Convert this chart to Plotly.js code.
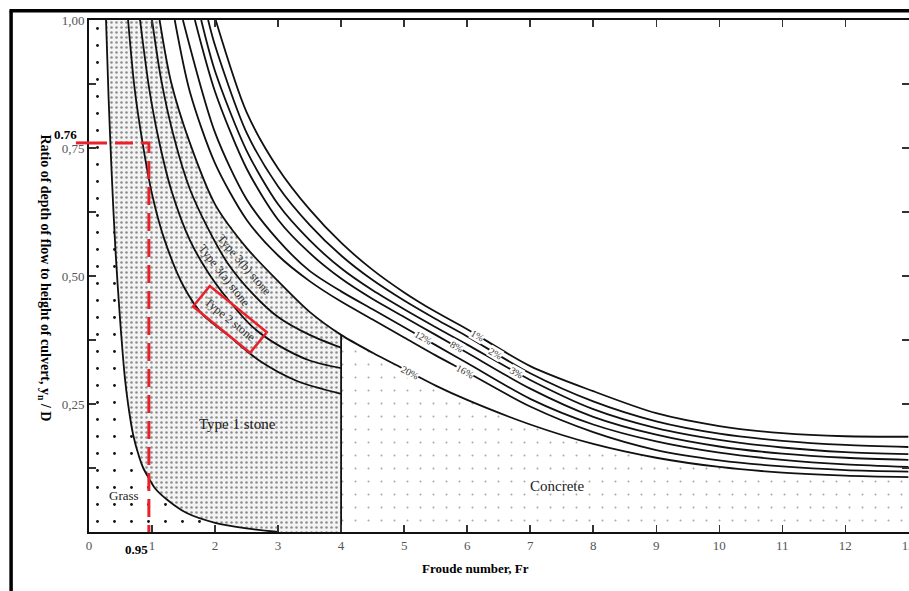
<!DOCTYPE html>
<html><head><meta charset="utf-8">
<script src="https://cdn.plot.ly/plotly-3.0.1.min.js"></script>
<style>html,body{margin:0;padding:0;background:#fff;}#chart{width:909px;height:591px;}</style>
</head><body><div id="chart"></div>
<script>
// ---- data ----
const frTicks = [0,1,2,3,4,5,6,7,8,9,10,11,12,13];
const ratioTicks = [0.125,0.25,0.375,0.5,0.625,0.75,0.875,1.0];
const ratioTickText = ['','0,25','','0,50','','0,75','','1,00'];

// Grass boundary
const grassX = [0.27,0.31,0.36,0.42,0.49,0.57,0.62,0.70,0.80,0.86,0.95,1.05,1.25,1.55,2.0,2.5,3.0];
const grassY = [1.00,0.85,0.70,0.55,0.42,0.30,0.25,0.19,0.145,0.125,0.105,0.085,0.062,0.037,0.018,0.007,0.0];

// Stone boundaries (end at Fr = 4)
const s1X = [0.62,0.72,0.85,1.0,1.2,1.5,1.8,2.2,2.7,3.3,4.0];
const s1Y = [1.0,0.87,0.76,0.66,0.57,0.48,0.425,0.385,0.335,0.295,0.27];
const s2X = [0.81,0.95,1.1,1.3,1.6,1.9,2.2,2.6,3.0,3.5,4.0];
const s2Y = [1.0,0.87,0.77,0.67,0.57,0.505,0.455,0.40,0.365,0.335,0.32];
const s3X = [1.0,1.15,1.35,1.6,1.9,2.2,2.6,3.0,3.5,4.0];
const s3Y = [1.0,0.88,0.77,0.67,0.59,0.525,0.465,0.42,0.385,0.36];

// Concrete curves (percent family)
const p1X = [2.01,2.5,3,3.5,4,4.5,5,5.5,6,7,8,9,10,11,12,13];
const p1Y = [1.0,0.82,0.71,0.63,0.565,0.512,0.468,0.43,0.396,0.324,0.275,0.232,0.207,0.193,0.187,0.186];
const p2X = [1.89,2,2.5,3,3.5,4,4.5,5,5.5,6,7,8,9,10,11,12,13];
const p2Y = [1.0,0.95,0.78,0.675,0.6,0.54,0.492,0.452,0.416,0.382,0.31,0.255,0.216,0.192,0.178,0.17,0.166];
const p3X = [1.78,2,2.5,3,3.5,4,4.5,5,5.5,6,7,8,9,10,11,12,13];
const p3Y = [1.0,0.9,0.745,0.64,0.57,0.515,0.472,0.435,0.4,0.366,0.297,0.24,0.203,0.18,0.165,0.156,0.152];
const p4X = [1.68,2,2.5,3,3.5,4,4.5,5,5.5,6,7,8,9,10,11,12,13];
const p4Y = [1.0,0.86,0.71,0.61,0.545,0.495,0.455,0.42,0.385,0.35,0.28,0.225,0.19,0.167,0.153,0.145,0.141];
const p5X = [1.49,2,2.5,3,3.5,4,4.5,5,5.5,6,7,8,9,10,11,12,13];
const p5Y = [1.0,0.78,0.65,0.57,0.51,0.47,0.435,0.40,0.365,0.33,0.26,0.21,0.177,0.155,0.141,0.132,0.127];
const p6X = [1.36,1.6,2,2.5,3,3.5,4,4.5,5,5.5,6,7,8,9,10,11,12,13];
const p6Y = [1.0,0.86,0.72,0.61,0.54,0.49,0.45,0.415,0.38,0.345,0.312,0.245,0.195,0.16,0.14,0.128,0.121,0.118];
const p7X = [1.12,1.3,1.6,2.0,2.5,3.0,3.5,4.0,4.5,5,5.5,6,7,8,9,10,11,12,13];
const p7Y = [1.0,0.88,0.76,0.64,0.555,0.49,0.43,0.385,0.35,0.318,0.286,0.258,0.21,0.172,0.145,0.127,0.116,0.11,0.107];

const pctLabels = ['1%','2%','3%','8%','12%','16%','20%'];
const pctLabelFr = [6.16,6.45,6.78,5.83,5.3,5.97,5.09];

const stoneLimitFr = 4;
const markFr = 0.95;
const markRatio = 0.76;

// ---- helpers ----
function interp(xs, ys, x){
  for(let i=0;i<xs.length-1;i++){
    if(x>=xs[i] && x<=xs[i+1]){const t=(x-xs[i])/(xs[i+1]-xs[i]);return ys[i]+t*(ys[i+1]-ys[i]);}
  }
  return x<xs[0]?ys[0]:ys[ys.length-1];
}
const XMAX = 13.01;
const PXX = 820/XMAX, PXY = 512;
function angleAt(xs, ys, x){
  const h=0.2; const s=(interp(xs,ys,x+h)-interp(xs,ys,x-h))/(2*h);
  return Math.atan2(-s*PXY, PXX)*180/Math.PI;
}

const pCurves = [[p1X,p1Y],[p2X,p2Y],[p3X,p3Y],[p4X,p4Y],[p5X,p5Y],[p6X,p6Y],[p7X,p7Y]];
const p7At4 = interp(p7X,p7Y,stoneLimitFr);

// polygons
const grassPolyX = [0,0].concat(grassX);
const grassPolyY = [0,1].concat(grassY);

const stoneX = [], stoneY = [];
p7X.forEach((x,i)=>{ if(x<=stoneLimitFr){stoneX.push(x);stoneY.push(p7Y[i]);} });
stoneX.push(stoneLimitFr); stoneY.push(0);
for(let i=grassX.length-1;i>=0;i--){stoneX.push(grassX[i]);stoneY.push(grassY[i]);}

const concX=[stoneLimitFr], concY=[0];
p7X.forEach((x,i)=>{ if(x>=stoneLimitFr){concX.push(x);concY.push(p7Y[i]);} });
concX.push(XMAX); concY.push(p7Y[p7Y.length-1]); concX.push(XMAX); concY.push(0);

const traces = [];
traces.push({x:grassPolyX,y:grassPolyY,mode:'none',fill:'toself',fillcolor:'#ffffff',
  fillpattern:{shape:'.',bgcolor:'#ffffff',fgcolor:'#111',size:17,solidity:0.022},hoverinfo:'skip'});
traces.push({x:stoneX,y:stoneY,mode:'none',fill:'toself',
  fillpattern:{shape:'.',bgcolor:'#f4f4f4',fgcolor:'#8d8d8d',size:5,solidity:0.2},hoverinfo:'skip'});
traces.push({x:concX,y:concY,mode:'none',fill:'toself',
  fillpattern:{shape:'.',bgcolor:'#ffffff',fgcolor:'#a8a8a8',size:13,solidity:0.018},hoverinfo:'skip'});

[[grassX,grassY],[s1X,s1Y],[s2X,s2Y],[s3X,s3Y]].concat(pCurves).forEach(c=>{
  traces.push({x:c[0],y:c[1],mode:'lines',line:{color:'#111',width:1.8,shape:'spline',smoothing:0.8},hoverinfo:'skip'});
});
traces.push({x:[stoneLimitFr,stoneLimitFr],y:[0,p7At4],mode:'lines',line:{color:'#111',width:1.8},hoverinfo:'skip'});

// red marker lines
traces.push({x:[0,markFr,markFr],y:[markRatio,markRatio,0],mode:'lines',
  line:{color:'#e8212b',width:3,dash:'18px,8px'},hoverinfo:'skip'});

const serif = 'Liberation Serif, Times New Roman, serif';
const annotations = [];
pctLabels.forEach((t,i)=>{
  const c=pCurves[i]; const x=pctLabelFr[i];
  annotations.push({x:x,y:interp(c[0],c[1],x),text:t,showarrow:false,textangle:angleAt(c[0],c[1],x),
    font:{family:serif,size:10,color:'#333'},bgcolor:'#ffffff',borderpad:0});
});
function mid(ax,ay,bx,by,x){return (interp(ax,ay,x)+interp(bx,by,x))/2;}
annotations.push({x:2.47,y:mid(s3X,s3Y,p7X,p7Y,2.47),text:'Type 3(b) stone',showarrow:false,
  textangle:angleAt(s3X,s3Y,2.47),font:{family:serif,size:12,color:'#333'}});
annotations.push({x:2.14,y:mid(s2X,s2Y,s3X,s3Y,2.14),text:'Type 3(a) stone',showarrow:false,
  textangle:angleAt(s2X,s2Y,2.14),font:{family:serif,size:12,color:'#333'}});
annotations.push({x:2.24,y:mid(s1X,s1Y,s2X,s2Y,2.24),text:'Type 2 stone',showarrow:false,
  textangle:angleAt(s1X,s1Y,2.24),font:{family:serif,size:12,color:'#333'},
  bordercolor:'#e8212b',borderwidth:2.5,borderpad:5});
annotations.push({x:2.35,y:0.21,text:'Type 1 stone',showarrow:false,font:{family:serif,size:15,color:'#222'}});
annotations.push({x:0.55,y:0.072,text:'Grass',showarrow:false,font:{family:serif,size:13,color:'#222'}});
annotations.push({x:7.42,y:0.09,text:'Concrete',showarrow:false,font:{family:serif,size:15,color:'#222'}});
annotations.push({x:0,y:markRatio,xanchor:'right',yanchor:'bottom',xshift:-10,yshift:-1,text:'0.76',showarrow:false,
  font:{family:serif,size:13,color:'#000',weight:'bold'}});
annotations.push({x:markFr,y:0,xanchor:'right',yanchor:'top',xshift:1,yshift:-8,text:'0.95',showarrow:false,
  font:{family:serif,size:13,color:'#000',weight:'bold'}});
annotations.push({xref:'paper',yref:'paper',x:(475-89)/820,y:(532-578)/512,text:'Froude number, Fr',showarrow:false,
  font:{family:serif,size:13,color:'#000',weight:'bold'}});
annotations.push({xref:'paper',yref:'paper',x:(34-89)/820,y:(532-278)/512,textangle:90,
  text:'Ratio of depth of flow to height of culvert, y<sub>n</sub> / D',showarrow:false,
  font:{family:serif,size:14,color:'#000',weight:'bold'}});

const axisBase = {showline:true,linecolor:'#111',linewidth:2,mirror:'ticks',ticks:'inside',ticklen:7,tickwidth:1.5,
  tickcolor:'#333',showgrid:false,zeroline:false,ticklabeloverflow:'allow',
  tickfont:{family:serif,size:13,color:'#555'}};

const layout = {
  width:909,height:591,margin:{l:89,r:0,t:20,b:59},paper_bgcolor:'#ffffff',plot_bgcolor:'#ffffff',
  showlegend:false,
  xaxis:Object.assign({},axisBase,{range:[0,XMAX],tickvals:frTicks,ticktext:frTicks.map(String)}),
  yaxis:Object.assign({},axisBase,{range:[0,1],tickvals:ratioTicks,ticktext:ratioTickText}),
  annotations:annotations,
  shapes:[
    {type:'line',xref:'paper',yref:'paper',x0:-0.095,x1:-0.095,y0:-0.2,y1:1.018,line:{color:'#000',width:3.5}},
    {type:'line',xref:'paper',yref:'paper',x0:-0.097,x1:1.05,y0:1.018,y1:1.018,line:{color:'#000',width:3.5}},
    {type:'line',xref:'paper',yref:'y',x0:-0.016,x1:0,y0:markRatio,y1:markRatio,line:{color:'#e8212b',width:3}}
  ]
};
Plotly.newPlot('chart',traces,layout,{staticPlot:true,displayModeBar:false});
</script></body></html>
